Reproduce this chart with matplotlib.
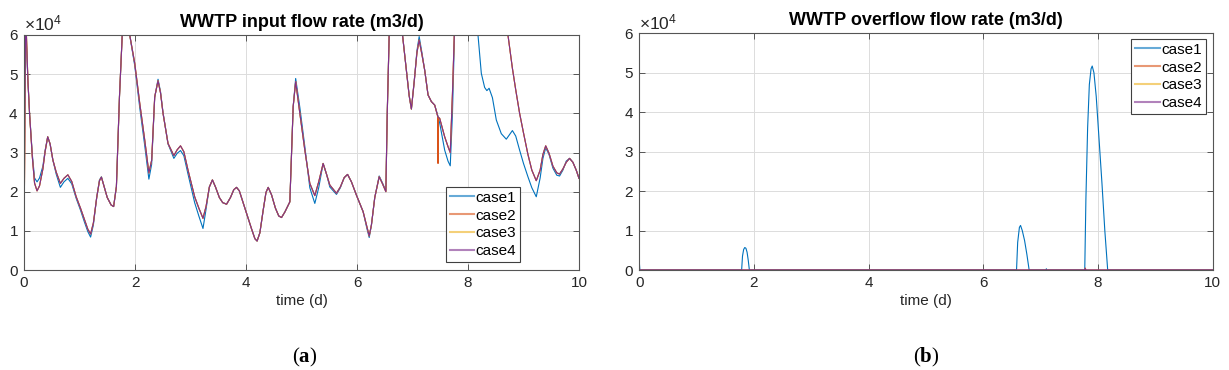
import matplotlib
matplotlib.use("Agg")
import matplotlib.pyplot as plt
import numpy as np
from matplotlib.ticker import ScalarFormatter

plt.rcParams["font.family"] = ["Liberation Sans", "DejaVu Sans"]
plt.rcParams["mathtext.fontset"] = "custom"
plt.rcParams["mathtext.rm"] = "Liberation Sans"
plt.rcParams["mathtext.bf"] = "Liberation Serif:bold"

# ---- data (flow rates in units of 1e4 m3/d) ----
case_labels = ["case1", "case2", "case3", "case4"]
case_colors = ["#0072BD", "#D95319", "#EDB120", "#7E2F8E"]

t_in = [0.00, 0.03, 0.07, 0.10, 0.15, 0.19, 0.235, 0.28, 0.34, 0.38, 0.427, 0.47, 0.52, 0.58, 0.655,
        0.72, 0.79, 0.86, 0.94, 1.02, 1.09, 1.15, 1.20, 1.25, 1.31, 1.36, 1.395, 1.44, 1.50, 1.57,
        1.615, 1.665, 1.72, 1.77, 1.84, 1.905, 1.995, 2.085, 2.175, 2.25, 2.30, 2.355, 2.415, 2.46,
        2.505, 2.595, 2.70, 2.76, 2.82, 2.88, 2.955, 3.075, 3.15, 3.225, 3.28, 3.34, 3.395, 3.45,
        3.52, 3.58, 3.65, 3.72, 3.78, 3.83, 3.88, 4.00, 4.10, 4.16, 4.20, 4.25, 4.31, 4.36, 4.40,
        4.46, 4.53, 4.59, 4.64, 4.70, 4.79, 4.85, 4.895, 4.97, 5.06, 5.15, 5.24, 5.31, 5.39, 5.45,
        5.51, 5.63, 5.70, 5.77, 5.83, 5.90, 5.99, 6.11, 6.18, 6.22, 6.26, 6.32, 6.40, 6.46, 6.52,
        6.545, 6.58, 6.70, 6.82, 6.89, 6.94, 6.98, 7.03, 7.08, 7.12, 7.17, 7.22, 7.28, 7.34, 7.40,
        7.455, 7.46, 7.465, 7.49, 7.58, 7.64, 7.68, 7.72, 7.76, 7.90, 8.10, 8.18, 8.24, 8.30, 8.34,
        8.38, 8.44, 8.51, 8.60, 8.69, 8.72, 8.80, 8.86, 8.93, 9.00, 9.08, 9.15, 9.23, 9.30, 9.35,
        9.40, 9.46, 9.53, 9.60, 9.65, 9.71, 9.77, 9.83, 9.89, 9.95, 10.0]

q_in_case1 = [6.6, 6.2, 4.85, 4.0, 2.95, 2.35, 2.25, 2.35, 2.65, 3.05, 3.40, 3.22, 2.81, 2.45, 2.11,
              2.25, 2.34, 2.20, 1.83, 1.52, 1.22, 0.98, 0.84, 1.15, 1.85, 2.30, 2.38, 2.15, 1.85, 1.66,
              1.62, 2.13, 4.42, 6.0, 6.8, 6.0, 5.22, 4.15, 3.18, 2.32, 2.70, 4.40, 4.87, 4.55,
              4.02, 3.22, 2.85, 2.98, 3.05, 2.92, 2.45, 1.72, 1.38, 1.06, 1.55, 2.12, 2.30, 2.12,
              1.85, 1.72, 1.68, 1.85, 2.05, 2.11, 2.02, 1.49, 1.05, 0.80, 0.74, 0.95, 1.53, 1.98, 2.11,
              1.92, 1.58, 1.38, 1.34, 1.48, 1.74, 4.17, 4.89, 4.15, 3.15, 2.10, 1.70, 2.10, 2.72, 2.45,
              2.12, 1.93, 2.10, 2.36, 2.44, 2.25, 1.91, 1.49, 1.05, 0.83, 1.15, 1.85, 2.40, 2.22, 2.02,
              4.0, 6.0, 7.0, 6.0, 5.10, 4.45, 4.11, 4.8, 5.6, 5.96, 5.55, 5.10, 4.47, 4.30, 4.21,
              3.95, 3.93, 3.90, 3.75, 3.06, 2.78, 2.66, 4.0, 6.2, 7.2, 6.5, 6.0, 5.02, 4.66, 4.58,
              4.64, 4.40, 3.83, 3.48, 3.34, 3.40, 3.56, 3.42, 3.06, 2.72, 2.38, 2.10, 1.87, 2.35, 2.85,
              3.12, 2.95, 2.60, 2.42, 2.40, 2.55, 2.78, 2.85, 2.75, 2.55, 2.34]

q_in_case2 = [0.5, 6.6, 4.85, 4.0, 2.89, 2.22, 2.02, 2.15, 2.58, 3.02, 3.40, 3.22, 2.81, 2.50, 2.21,
              2.34, 2.43, 2.26, 1.87, 1.57, 1.28, 1.04, 0.92, 1.20, 1.85, 2.28, 2.37, 2.15, 1.85, 1.66,
              1.62, 2.13, 4.42, 6.0, 6.8, 6.0, 5.28, 4.26, 3.32, 2.48, 2.80, 4.42, 4.83, 4.52,
              4.0, 3.23, 2.92, 3.07, 3.17, 3.02, 2.55, 1.87, 1.58, 1.32, 1.62, 2.12, 2.30, 2.12,
              1.85, 1.72, 1.68, 1.85, 2.05, 2.11, 2.02, 1.49, 1.05, 0.80, 0.74, 0.95, 1.53, 1.98, 2.11,
              1.92, 1.58, 1.38, 1.34, 1.48, 1.74, 4.17, 4.81, 4.0, 3.06, 2.21, 1.90, 2.25, 2.72, 2.45,
              2.17, 1.96, 2.12, 2.36, 2.44, 2.25, 1.91, 1.49, 1.10, 0.87, 1.15, 1.85, 2.38, 2.20, 2.0,
              4.0, 6.0, 7.0, 6.0, 5.10, 4.45, 4.11, 4.8, 5.55, 5.87, 5.5, 5.10, 4.47, 4.30, 4.21,
              3.92, 2.72, 3.90, 3.87, 3.40, 3.15, 3.0, 4.5, 6.3, 7.2, 7.2, 7.0, 7.0, 7.0, 7.0,
              7.0, 7.0, 7.0, 6.9, 6.3, 6.0, 5.15, 4.6, 4.0, 3.5, 2.95, 2.55, 2.28, 2.55, 2.95,
              3.17, 2.98, 2.65, 2.48, 2.45, 2.58, 2.75, 2.85, 2.75, 2.55, 2.34]

q_in_case3 = [0.5, 6.6, 4.85, 4.0, 2.89, 2.22, 2.02, 2.15, 2.58, 3.02, 3.40, 3.22, 2.81, 2.50, 2.21,
              2.34, 2.43, 2.26, 1.87, 1.57, 1.28, 1.04, 0.92, 1.20, 1.85, 2.28, 2.37, 2.15, 1.85, 1.66,
              1.62, 2.13, 4.42, 6.0, 6.8, 6.0, 5.28, 4.26, 3.32, 2.48, 2.80, 4.42, 4.83, 4.52,
              4.0, 3.23, 2.92, 3.07, 3.17, 3.02, 2.55, 1.87, 1.58, 1.32, 1.62, 2.12, 2.30, 2.12,
              1.85, 1.72, 1.68, 1.85, 2.05, 2.11, 2.02, 1.49, 1.05, 0.80, 0.74, 0.95, 1.53, 1.98, 2.11,
              1.92, 1.58, 1.38, 1.34, 1.48, 1.74, 4.17, 4.81, 4.0, 3.06, 2.21, 1.90, 2.25, 2.72, 2.45,
              2.17, 1.96, 2.12, 2.36, 2.44, 2.25, 1.91, 1.49, 1.10, 0.87, 1.15, 1.85, 2.38, 2.20, 2.0,
              4.0, 6.0, 7.0, 6.0, 5.10, 4.45, 4.11, 4.8, 5.55, 5.87, 5.5, 5.10, 4.47, 4.30, 4.21,
              3.92, 3.91, 3.90, 3.87, 3.40, 3.15, 3.0, 4.5, 6.3, 7.2, 7.2, 7.0, 7.0, 7.0, 7.0,
              7.0, 7.0, 7.0, 6.9, 6.3, 6.0, 5.15, 4.6, 4.0, 3.5, 2.95, 2.55, 2.28, 2.55, 2.95,
              3.17, 2.98, 2.65, 2.48, 2.45, 2.58, 2.75, 2.85, 2.75, 2.55, 2.34]

q_in_case4 = [0.5, 6.6, 4.85, 4.0, 2.89, 2.22, 2.02, 2.15, 2.58, 3.02, 3.40, 3.22, 2.81, 2.50, 2.21,
              2.34, 2.43, 2.26, 1.87, 1.57, 1.28, 1.04, 0.92, 1.20, 1.85, 2.28, 2.37, 2.15, 1.85, 1.66,
              1.62, 2.13, 4.42, 6.0, 6.8, 6.0, 5.28, 4.26, 3.32, 2.48, 2.80, 4.42, 4.83, 4.52,
              4.0, 3.23, 2.92, 3.07, 3.17, 3.02, 2.55, 1.87, 1.58, 1.32, 1.62, 2.12, 2.30, 2.12,
              1.85, 1.72, 1.68, 1.85, 2.05, 2.11, 2.02, 1.49, 1.05, 0.80, 0.74, 0.95, 1.53, 1.98, 2.11,
              1.92, 1.58, 1.38, 1.34, 1.48, 1.74, 4.17, 4.81, 4.0, 3.06, 2.21, 1.90, 2.25, 2.72, 2.45,
              2.17, 1.96, 2.12, 2.36, 2.44, 2.25, 1.91, 1.49, 1.10, 0.87, 1.15, 1.85, 2.38, 2.20, 2.0,
              4.0, 6.0, 7.0, 6.0, 5.10, 4.45, 4.11, 4.8, 5.55, 5.87, 5.5, 5.10, 4.47, 4.30, 4.21,
              3.92, 3.91, 3.90, 3.87, 3.40, 3.15, 3.0, 4.5, 6.3, 7.2, 7.2, 7.0, 7.0, 7.0, 7.0,
              7.0, 7.0, 7.0, 6.9, 6.3, 6.0, 5.15, 4.6, 4.0, 3.5, 2.95, 2.55, 2.28, 2.55, 2.95,
              3.17, 2.98, 2.65, 2.48, 2.45, 2.58, 2.75, 2.85, 2.75, 2.55, 2.34]

t_of_case1 = [0.0, 0.01, 1.785, 1.80, 1.82, 1.84, 1.86, 1.88, 1.90, 1.92, 6.58, 6.60, 6.63, 6.65,
              6.68, 6.72, 6.76, 6.80, 7.095, 7.10, 7.105, 7.77, 7.79, 7.82, 7.85, 7.88, 7.90, 7.93,
              7.97, 8.02, 8.07, 8.12, 8.17, 10.0]
q_of_case1 = [0.2, 0.0, 0.0, 0.35, 0.52, 0.57, 0.55, 0.45, 0.25, 0.0, 0.0, 0.7, 1.08, 1.13,
              1.0, 0.75, 0.4, 0.0, 0.0, 0.03, 0.0, 0.0, 1.8, 3.6, 4.7, 5.1, 5.17, 5.0,
              4.4, 3.3, 2.2, 1.0, 0.0, 0.0]
t_of_rest = [0.0, 7.77, 7.78, 7.79, 10.0]
q_of_case2 = [0.0, 0.0, 0.05, 0.0, 0.0]
q_of_case3 = [0.0, 0.0, 0.0, 0.0, 0.0]
q_of_case4 = [0.0, 0.0, 0.03, 0.0, 0.0]

x_ticks = [0, 2, 4, 6, 8, 10]
y_ticks = [0, 1e4, 2e4, 3e4, 4e4, 5e4, 6e4]

fig = plt.figure(figsize=(12.29, 3.70), dpi=100)
ax_a = fig.add_axes([24 / 1229, 1 - 270 / 370, 555 / 1229, 235 / 370])
ax_b = fig.add_axes([639.3 / 1229, 1 - 270 / 370, 573.3 / 1229, 236.7 / 370])


def style_axes(ax, title):
    ax.set_xlim(0, 10)
    ax.set_ylim(0, 6e4)
    ax.set_xticks(x_ticks)
    ax.set_yticks(y_ticks)
    fmt = ScalarFormatter(useMathText=True)
    fmt.set_powerlimits((4, 4))
    ax.yaxis.set_major_formatter(fmt)
    ax.yaxis.get_offset_text().set_fontsize(12.5)
    ax.yaxis.get_offset_text().set_color("#7f7f7f")
    ax.grid(True, color="#dcdcdc", linewidth=0.7)
    ax.set_axisbelow(True)
    ax.tick_params(direction="in", top=True, right=True, length=4, width=0.6,
                   labelsize=11, labelcolor="#262626", color="#404040", pad=4)
    for sp in ax.spines.values():
        sp.set_color("#555555")
        sp.set_linewidth(0.8)
    ax.set_title(title, fontsize=13, fontweight="bold", pad=6)
    ax.set_xlabel("time (d)", fontsize=11, color="#262626", labelpad=3)


series_in = [q_in_case1, q_in_case2, q_in_case3, q_in_case4]
for vals, lab, col in zip(series_in, case_labels, case_colors):
    ax_a.plot(t_in, np.array(vals) * 1e4, color=col, lw=0.8, label=lab)
style_axes(ax_a, "WWTP input flow rate (m3/d)")
leg_a = ax_a.legend(loc="lower right", bbox_to_anchor=(0.894, 0.034), fontsize=11,
                    fancybox=False, framealpha=1, edgecolor="#404040", borderpad=0.25,
                    labelspacing=0.25, handlelength=1.6, handletextpad=0.1, borderaxespad=0)

ax_b.plot(t_of_case1, np.array(q_of_case1) * 1e4, color=case_colors[0], lw=0.8, label=case_labels[0])
for vals, lab, col in zip([q_of_case2, q_of_case3, q_of_case4], case_labels[1:], case_colors[1:]):
    ax_b.plot(t_of_rest, np.array(vals) * 1e4, color=col, lw=0.8, label=lab)
style_axes(ax_b, "WWTP overflow flow rate (m3/d)")
leg_b = ax_b.legend(loc="upper right", bbox_to_anchor=(0.988, 0.976), fontsize=11,
                    fancybox=False, framealpha=1, edgecolor="#404040", borderpad=0.25,
                    labelspacing=0.25, handlelength=1.6, handletextpad=0.1, borderaxespad=0)

for leg in (leg_a, leg_b):
    leg.get_frame().set_linewidth(0.8)
    for ln in leg.get_lines():
        ln.set_linewidth(1.5)
        ln.set_alpha(0.6)

fig.text(305 / 1229, 1 - 357 / 370, r"($\mathbf{a}$)", ha="center", va="center",
         fontsize=15, family="Liberation Serif")
fig.text(926 / 1229, 1 - 357 / 370, r"($\mathbf{b}$)", ha="center", va="center",
         fontsize=15, family="Liberation Serif")

fig.savefig("out.png", dpi=100)
